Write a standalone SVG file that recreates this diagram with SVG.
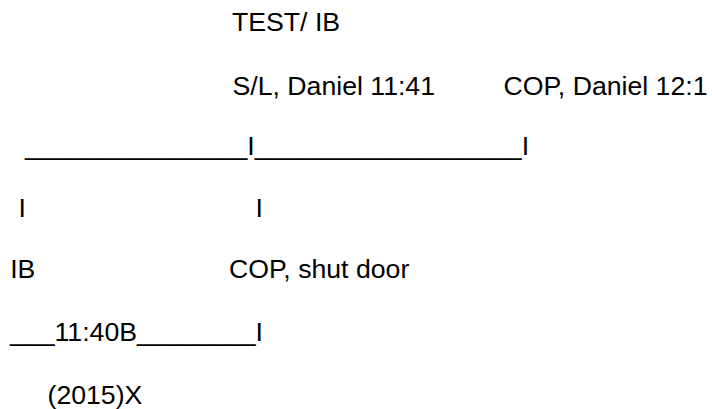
<svg xmlns="http://www.w3.org/2000/svg" width="712" height="409" viewBox="0 0 712 409">
<style>
text{font-family:"Liberation Sans",Arial,sans-serif;font-size:26.67px;fill:#000;white-space:pre}
</style>
<rect width="712" height="409" fill="#fff"/>
<g id="labels">
<text x="232" y="31">TEST/ IB</text>
<text x="232.5" y="94.5">S/L, Daniel 11:41</text>
<text x="503.5" y="94.5">COP, Daniel 12:1</text>
</g>
<g id="connectors">
<text x="25" y="155">_______________I__________________I</text>
<text x="18.5" y="216.7">I</text>
<text x="255.5" y="216.7">I</text>
</g>
<g id="nodes">
<text id="ib" x="10.2" y="278">IB</text>
<text id="cop" x="229" y="278">COP, shut door</text>
<text id="n1140" x="10" y="340.5">___11:40B________I</text>
<text id="y2015" x="47.5" y="404">(2015)X</text>
</g>
</svg>
